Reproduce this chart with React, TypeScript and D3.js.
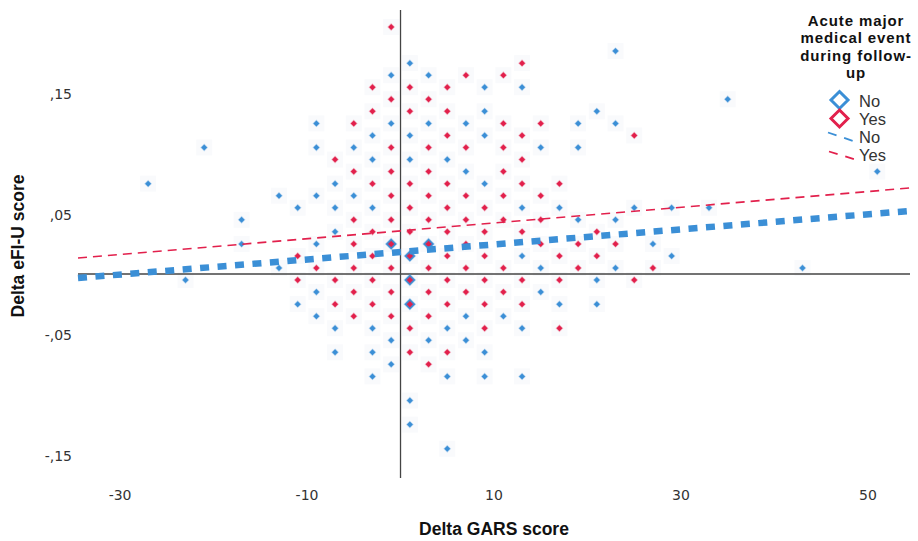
import React from 'react'
import * as d3 from 'd3'

const W = 918
const H = 541

const xTicks = [-30, -10, 10, 30, 50]
const yTicks = [0.15, 0.05, -0.05, -0.15]
const yTickLabels = [',15', ',05', '-,05', '-,15']
const legendTitle = ['Acute major', 'medical event', 'during follow-', 'up']

// Delta GARS (x), Delta eFI-U (y) - no acute major medical event
const noPoints: [number, number][] = [
  [-27, 0.075], [-23, -0.005], [-21, 0.105], [-17, 0.045], [-17, 0.025],
  [-13, 0.065], [-13, 0.005], [-11, 0.055], [-11, -0.025],
  [-9, 0.125], [-9, 0.105], [-9, 0.065], [-9, 0.025], [-9, -0.015], [-9, -0.035],
  [-7, 0.075], [-7, 0.055], [-7, 0.035], [-7, -0.045], [-7, -0.065],
  [-5, 0.105], [-5, 0.065],
  [-3, 0.115], [-3, 0.095], [-3, 0.055], [-3, -0.045], [-3, -0.065], [-3, -0.085],
  [-1, 0.165], [-1, 0.125], [-1, 0.025], [-1, -0.055], [-1, -0.075],
  [1, 0.175], [1, 0.115], [1, 0.095], [1, 0.015], [1, -0.005], [1, -0.025], [1, -0.105], [1, -0.125],
  [3, 0.165], [3, 0.125], [3, 0.025], [3, -0.055],
  [5, 0.095], [5, -0.045], [5, -0.085], [5, -0.145],
  [7, 0.125], [7, 0.085], [7, -0.035], [7, -0.055],
  [9, 0.155], [9, 0.135], [9, 0.115], [9, 0.075], [9, -0.065], [9, -0.085],
  [11, -0.035],
  [13, 0.155], [13, 0.055], [13, 0.015], [13, -0.045], [13, -0.085],
  [15, 0.105], [15, 0.005], [15, -0.015],
  [17, 0.055], [17, -0.025],
  [19, 0.125], [19, 0.105], [19, 0.045],
  [21, 0.135], [21, -0.005], [21, -0.025],
  [23, 0.185], [23, 0.125], [23, 0.045], [23, 0.005],
  [25, 0.055], [27, 0.025], [29, 0.055], [29, 0.015], [33, 0.055],
  [35, 0.145], [43, 0.005], [51, 0.085],
]

// with acute major medical event
const yesPoints: [number, number][] = [
  [-11, 0.015], [-11, -0.005], [-9, 0.005],
  [-7, 0.095], [-7, -0.005], [-7, -0.025],
  [-5, 0.125], [-5, 0.085], [-5, 0.045], [-5, 0.025], [-5, 0.005], [-5, -0.015], [-5, -0.035],
  [-3, 0.155], [-3, 0.135], [-3, 0.075], [-3, 0.035], [-3, 0.015], [-3, -0.005], [-3, -0.025],
  [-1, 0.205], [-1, 0.145], [-1, 0.105], [-1, 0.085], [-1, 0.065], [-1, 0.045], [-1, 0.025], [-1, 0.005], [-1, -0.015], [-1, -0.035],
  [1, 0.155], [1, 0.135], [1, 0.075], [1, 0.055], [1, 0.035], [1, 0.015], [1, -0.005], [1, -0.025], [1, -0.045], [1, -0.065],
  [3, 0.145], [3, 0.105], [3, 0.085], [3, 0.065], [3, 0.045], [3, 0.025], [3, 0.005], [3, -0.015], [3, -0.035], [3, -0.075],
  [5, 0.155], [5, 0.135], [5, 0.115], [5, 0.075], [5, 0.055], [5, 0.035], [5, 0.015], [5, -0.005], [5, -0.025], [5, -0.065],
  [7, 0.165], [7, 0.105], [7, 0.065], [7, 0.045], [7, 0.025], [7, 0.005], [7, -0.015],
  [9, 0.055], [9, 0.035], [9, 0.015], [9, -0.005], [9, -0.025], [9, -0.045],
  [11, 0.165], [11, 0.125], [11, 0.105], [11, 0.085], [11, 0.065], [11, 0.045], [11, 0.005], [11, -0.015],
  [13, 0.175], [13, 0.115], [13, 0.095], [13, 0.075], [13, 0.035], [13, -0.005], [13, -0.025],
  [15, 0.125], [15, 0.065], [15, 0.045], [15, 0.025],
  [17, 0.075], [17, 0.015], [17, -0.005], [17, -0.045],
  [19, 0.025], [19, 0.005], [21, 0.035], [21, 0.015],
  [23, 0.025], [25, 0.115], [25, -0.005], [27, 0.005],
]

// linear fit lines [intercept, slope]
const fitNo = [0.0183, 0.000625]
const fitYes = [0.0358, 0.000653]

const BLUE = '#3b8fd6'
const RED = '#e2204c'
const AXIS_FONT = "'DejaVu Sans', Verdana, sans-serif"
const TITLE_FONT = "'Liberation Sans', Arial, sans-serif"

const diamond = (cx, cy, r) => `M${cx},${cy - r}L${cx + r},${cy}L${cx},${cy + r}L${cx - r},${cy}Z`

export default function App() {
  const x = d3.scaleLinear().domain([-34.5, 54.5]).range([78, 910])
  const y = d3.scaleLinear().domain([-0.1693, 0.2191]).range([478, 10])

  const yesKeys = new Set(yesPoints.map(p => p.join('|')))
  const [x0, x1] = x.domain()
  const fitLine = (f) => d3.line<number>()(
    [x0, x1].map(v => [x(v), y(f[0] + f[1] * v)]) as any
  )

  const halo = (pts, key) => pts.map((p, i) => (
    <rect key={key + i} x={x(p[0]) - 8} y={y(p[1]) - 8} width={16} height={16} fill='#f9fafc' />
  ))

  return (
    <svg width={W} height={H} style={{ position: 'absolute', left: 0, top: 0, background: '#fff' }}>
      <rect width={W} height={H} fill='#fff' />
      <g>{halo(noPoints, 'hn')}{halo(yesPoints, 'hy')}</g>

      {/* reference lines at zero */}
      <line x1={x(0)} x2={x(0)} y1={y.range()[1]} y2={y.range()[0]} stroke='#444' strokeWidth={1.3} />
      <line x1={x.range()[0]} x2={x.range()[1]} y1={y(0)} y2={y(0)} stroke='#444' strokeWidth={1.3} />

      <g>
        {noPoints.map((p, i) => {
          const big = yesKeys.has(p.join('|'))
          return <path key={'n' + i} d={diamond(x(p[0]), y(p[1]), big ? 5.5 : 3)}
            fill={BLUE} stroke={BLUE} strokeOpacity={0.3} strokeWidth={1.3} />
        })}
        {yesPoints.map((p, i) => (
          <path key={'y' + i} d={diamond(x(p[0]), y(p[1]), 3)}
            fill={RED} stroke={RED} strokeOpacity={0.3} strokeWidth={1.3} />
        ))}
      </g>

      {/* fit lines */}
      <path d={fitLine(fitNo)} stroke={BLUE} strokeWidth={6.5} strokeDasharray='9 8.5' fill='none' />
      <path d={fitLine(fitYes)} stroke={RED} strokeWidth={1.6} strokeDasharray='9 6' fill='none' />

      {/* axes ticks */}
      {xTicks.map(t => (
        <text key={'xt' + t} x={x(t)} y={500} textAnchor='middle' fontFamily={AXIS_FONT} fontSize={14} fill='#333'>{t}</text>
      ))}
      {yTicks.map((t, i) => (
        <text key={'yt' + t} x={72} y={y(t) + 6} textAnchor='end' fontFamily={AXIS_FONT} fontSize={14} fill='#333'>{yTickLabels[i]}</text>
      ))}

      <text x={494} y={535} textAnchor='middle' fontFamily={TITLE_FONT} fontWeight='bold' fontSize={17.5} fill='#111'>Delta GARS score</text>
      <text transform='translate(24,246) rotate(-90)' textAnchor='middle' fontFamily={TITLE_FONT} fontWeight='bold' fontSize={17.5} fill='#111'>Delta eFI-U score</text>

      {/* legend */}
      <g fontFamily={TITLE_FONT} fontWeight='bold' fontSize={15} letterSpacing={0.9} fill='#111' textAnchor='middle'>
        {legendTitle.map((s, i) => (
          <text key={s} x={856} y={26 + i * 17.3}>{s}</text>
        ))}
      </g>
      <path d={diamond(839.5, 100, 8.5)} fill='none' stroke={BLUE} strokeWidth={3} />
      <path d={diamond(839.5, 118.5, 8.5)} fill='none' stroke={RED} strokeWidth={3} />
      <line x1={828} y1={132.5} x2={856} y2={142} stroke={BLUE} strokeWidth={1.8} strokeDasharray='9 8' />
      <line x1={829} y1={151.5} x2={857} y2={160} stroke={RED} strokeWidth={1.8} strokeDasharray='9 8' />
      <g fontFamily="'Liberation Sans Narrow', 'Liberation Sans', Arial, sans-serif" fontSize={16.5} fill='#333'>
        <text x={859} y={106.5}>No</text>
        <text x={859} y={124.5}>Yes</text>
        <text x={859} y={142.5}>No</text>
        <text x={859} y={161}>Yes</text>
      </g>
    </svg>
  )
}
